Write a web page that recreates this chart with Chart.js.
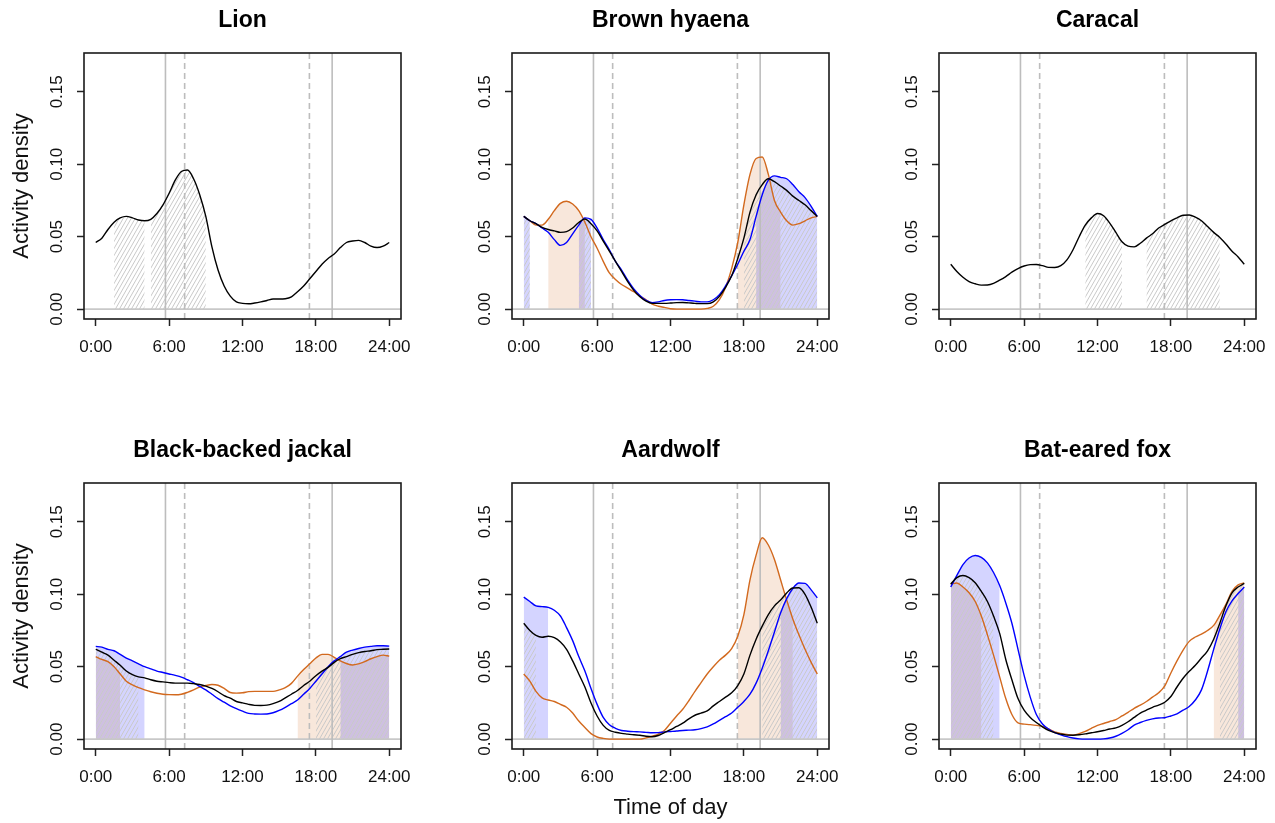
<!DOCTYPE html>
<html lang="en">
<head>
<meta charset="UTF-8" />
<title>Activity density by time of day</title>
<script src="https://cdn.jsdelivr.net/npm/chart.js"></script>
<style>
  * { margin: 0; padding: 0; box-sizing: border-box; }
  body { background: #fff; width: 1275px; height: 823px; position: relative; overflow: hidden; }
  canvas { position: absolute; }
</style>
</head>
<body>
<canvas id="lion"></canvas>
<canvas id="hyaena"></canvas>
<canvas id="caracal"></canvas>
<canvas id="jackal"></canvas>
<canvas id="aardwolf"></canvas>
<canvas id="fox"></canvas>

<script>
// time grid (hours) shared by every curve
const hours = [
  0, 0.5, 1, 1.5, 2, 2.5, 3, 3.5, 4, 4.5, 5, 5.5,
  6, 6.5, 7, 7.5, 8, 8.5, 9, 9.5, 10, 10.5, 11, 11.5,
  12, 12.5, 13, 13.5, 14, 14.5, 15, 15.5, 16, 16.5, 17, 17.5,
  18, 18.5, 19, 19.5, 20, 20.5, 21, 21.5, 22, 22.5, 23, 23.5, 24
];
const hourTicks = [0, 6, 12, 18, 24];
const hourLabels = ['0:00', '6:00', '12:00', '18:00', '24:00'];
const densityTicks = [0, 0.05, 0.10, 0.15];
const xMin = -0.96, xMax = 24.96;
const yMin = -0.0068, yMax = 0.1768;

// sunrise / sunset range
const solidSunLines = [5.7, 19.33];
const dashedSunLines = [7.27, 17.47];

// Lion
const lionAll = [
  0.046, 0.049, 0.055, 0.060, 0.063, 0.064, 0.063, 0.0615, 0.061, 0.062, 0.066, 0.072,
  0.080, 0.089, 0.095, 0.096, 0.090, 0.079, 0.064, 0.043, 0.027, 0.016, 0.009, 0.005,
  0.004, 0.0037, 0.0042, 0.005, 0.006, 0.007, 0.007, 0.0072, 0.0085, 0.012, 0.016, 0.021,
  0.026, 0.031, 0.035, 0.038, 0.0425, 0.046, 0.047, 0.0475, 0.046, 0.0435, 0.0425, 0.0435, 0.046
];
const lionHatch = [[1.5, 4], [4.5, 9]];

// Brown hyaena
const hyaenaAll = [
  0.064, 0.061, 0.059, 0.0565, 0.055, 0.054, 0.053, 0.0535, 0.056, 0.0598, 0.0622, 0.059,
  0.054, 0.047, 0.040, 0.033, 0.026, 0.019, 0.013, 0.0085, 0.0055, 0.004, 0.004, 0.004,
  0.0042, 0.0045, 0.0046, 0.0043, 0.004, 0.0038, 0.0038, 0.005, 0.0088, 0.015, 0.023, 0.035,
  0.049, 0.067, 0.079, 0.086, 0.090, 0.088, 0.085, 0.082, 0.078, 0.075, 0.072, 0.068, 0.064
];
const hyaenaBlue = [
  0.064, 0.061, 0.059, 0.056, 0.053, 0.048, 0.044, 0.046, 0.052, 0.058, 0.063, 0.062,
  0.056, 0.048, 0.041, 0.033, 0.027, 0.020, 0.014, 0.0095, 0.006, 0.0045, 0.005, 0.006,
  0.0065, 0.0066, 0.0065, 0.006, 0.0055, 0.005, 0.005, 0.0065, 0.010, 0.016, 0.023, 0.031,
  0.040, 0.048, 0.064, 0.079, 0.089, 0.092, 0.091, 0.090, 0.086, 0.081, 0.077, 0.071, 0.064
];
const hyaenaOrange = [
  0.064, 0.061, 0.058, 0.058, 0.062, 0.068, 0.073, 0.0745, 0.0726, 0.068, 0.060, 0.050,
  0.042, 0.033, 0.025, 0.0205, 0.017, 0.0145, 0.012, 0.009, 0.0065, 0.0035, 0.002, 0.0012,
  0.0003, 0, 0, 0, 0, 0, 0.0005, 0.002, 0.0065, 0.015, 0.028, 0.046,
  0.072, 0.093, 0.104, 0.105, 0.093, 0.075, 0.067, 0.061, 0.058, 0.059, 0.061, 0.063, 0.064
];
const hyaenaHatch = [[0, 0.5], [4.5, 5.5], [18, 24]];
const hyaenaBlueShade = [[0, 0.5], [4.5, 5.5], [19, 24]];
const hyaenaOrangeShade = [[2, 5], [17.5, 21]];

// Caracal
const caracalAll = [
  0.031, 0.026, 0.022, 0.019, 0.0175, 0.0166, 0.0167, 0.0178, 0.020, 0.0225, 0.0255, 0.028,
  0.0298, 0.0307, 0.0308, 0.030, 0.0288, 0.0287, 0.030, 0.034, 0.041, 0.050, 0.058, 0.063,
  0.066, 0.0645, 0.0594, 0.053, 0.0465, 0.0435, 0.043, 0.0455, 0.049, 0.052, 0.056, 0.0585,
  0.061, 0.063, 0.0648, 0.065, 0.0635, 0.061, 0.057, 0.053, 0.0495, 0.045, 0.040, 0.036, 0.031
];
const caracalHatch = [[11, 14], [16, 22]];

// Black-backed jackal
const jackalAll = [
  0.062, 0.060, 0.058, 0.0545, 0.051, 0.047, 0.0445, 0.043, 0.0423, 0.041, 0.040, 0.0395,
  0.039, 0.0387, 0.0387, 0.0387, 0.0383, 0.0377, 0.0366, 0.035, 0.0327, 0.030, 0.0283, 0.026,
  0.025, 0.024, 0.0233, 0.0232, 0.0235, 0.0245, 0.026, 0.0285, 0.031, 0.0336, 0.037, 0.040,
  0.0438, 0.047, 0.0495, 0.053, 0.0555, 0.057, 0.0585, 0.0597, 0.0605, 0.061, 0.0618, 0.062, 0.0622
];
const jackalBlue = [
  0.064, 0.0635, 0.062, 0.061, 0.0585, 0.056, 0.054, 0.052, 0.050, 0.0485, 0.047, 0.046,
  0.045, 0.044, 0.0428, 0.041, 0.039, 0.0364, 0.034, 0.031, 0.028, 0.0255, 0.023, 0.021,
  0.0193, 0.0178, 0.0174, 0.0173, 0.0174, 0.0182, 0.0198, 0.022, 0.0245, 0.027, 0.031, 0.035,
  0.040, 0.045, 0.050, 0.054, 0.057, 0.060, 0.0615, 0.0626, 0.0635, 0.064, 0.0645, 0.0645, 0.0642
];
const jackalOrange = [
  0.057, 0.055, 0.0535, 0.050, 0.045, 0.040, 0.0375, 0.0355, 0.034, 0.0327, 0.0317, 0.031,
  0.0307, 0.0306, 0.031, 0.0323, 0.034, 0.036, 0.037, 0.0377, 0.0372, 0.035, 0.0322, 0.0318,
  0.032, 0.0328, 0.033, 0.033, 0.033, 0.033, 0.034, 0.0355, 0.0385, 0.0435, 0.048, 0.052,
  0.056, 0.0585, 0.0585, 0.0565, 0.054, 0.0522, 0.0512, 0.052, 0.0535, 0.0555, 0.057, 0.058, 0.0573
];
const jackalHatch = [[0, 3.5], [18, 24]];
const jackalBlueShade = [[0, 4], [20, 24]];
const jackalOrangeShade = [[0, 2], [16.5, 24]];

// Aardwolf
const aardwolfAll = [
  0.080, 0.075, 0.0716, 0.0703, 0.071, 0.070, 0.067, 0.062, 0.054, 0.045, 0.036, 0.025,
  0.016, 0.0095, 0.006, 0.0048, 0.004, 0.0035, 0.003, 0.0027, 0.002, 0.0017, 0.0025, 0.0045,
  0.0065, 0.0088, 0.011, 0.014, 0.0165, 0.018, 0.0195, 0.023, 0.026, 0.029, 0.032, 0.037,
  0.045, 0.058, 0.069, 0.078, 0.086, 0.092, 0.096, 0.1009, 0.1043, 0.1045, 0.100, 0.091, 0.080
];
const aardwolfBlue = [
  0.098, 0.095, 0.092, 0.0915, 0.091, 0.089, 0.085, 0.077, 0.068, 0.057, 0.047, 0.035,
  0.024, 0.015, 0.010, 0.0075, 0.006, 0.0055, 0.0052, 0.005, 0.0047, 0.0044, 0.0045, 0.005,
  0.0053, 0.0056, 0.006, 0.0062, 0.0065, 0.0073, 0.0085, 0.0105, 0.013, 0.0155, 0.018, 0.022,
  0.026, 0.031, 0.0387, 0.049, 0.061, 0.074, 0.087, 0.097, 0.104, 0.1078, 0.1075, 0.103, 0.0975
];
const aardwolfOrange = [
  0.045, 0.040, 0.033, 0.0285, 0.027, 0.026, 0.024, 0.022, 0.018, 0.0125, 0.008, 0.0038,
  0.0015, 0.0005, 0, 0, 0, 0, 0, 0, 0.0009, 0.002, 0.0035, 0.006,
  0.011, 0.016, 0.0206, 0.0265, 0.033, 0.039, 0.045, 0.050, 0.0545, 0.058, 0.0625, 0.071,
  0.086, 0.110, 0.127, 0.139, 0.134, 0.124, 0.110, 0.096, 0.083, 0.072, 0.062, 0.053, 0.045
];
const aardwolfHatch = [[0, 1], [19.5, 24]];
const aardwolfBlueShade = [[0, 2], [21, 24]];
const aardwolfOrangeShade = [[17.5, 22]];

// Bat-eared fox
const foxAll = [
  0.107, 0.1115, 0.113, 0.1115, 0.108, 0.102, 0.095, 0.085, 0.073, 0.055, 0.041, 0.028,
  0.020, 0.015, 0.0115, 0.0085, 0.006, 0.0045, 0.0035, 0.0028, 0.0027, 0.003, 0.0036, 0.0044,
  0.0051, 0.006, 0.007, 0.0078, 0.0095, 0.012, 0.015, 0.018, 0.020, 0.022, 0.0235, 0.0255,
  0.0294, 0.036, 0.042, 0.0468, 0.051, 0.056, 0.061, 0.069, 0.080, 0.092, 0.101, 0.105, 0.1075
];
const foxBlue = [
  0.105, 0.113, 0.1205, 0.125, 0.1268, 0.1255, 0.1217, 0.115, 0.106, 0.094, 0.080, 0.062,
  0.044, 0.029, 0.017, 0.0105, 0.007, 0.0045, 0.003, 0.0017, 0.0008, 0.0002, 0, 0,
  0, 0.0002, 0.0008, 0.002, 0.004, 0.0065, 0.0097, 0.0115, 0.013, 0.014, 0.0146, 0.0148,
  0.016, 0.0175, 0.020, 0.0225, 0.027, 0.034, 0.047, 0.062, 0.076, 0.088, 0.0955, 0.1005, 0.105
];
const foxOrange = [
  0.107, 0.1078, 0.105, 0.101, 0.095, 0.085, 0.072, 0.058, 0.043, 0.028, 0.017, 0.0112,
  0.0104, 0.010, 0.0095, 0.0088, 0.007, 0.005, 0.004, 0.0033, 0.0028, 0.0038, 0.0053, 0.0075,
  0.0095, 0.0108, 0.0122, 0.0135, 0.016, 0.0185, 0.0213, 0.0235, 0.026, 0.029, 0.032, 0.0368,
  0.0457, 0.054, 0.0615, 0.0675, 0.0705, 0.0725, 0.075, 0.0785, 0.0855, 0.093, 0.102, 0.1065, 0.1078
];
const foxHatch = [[0, 3.5], [22, 24]];
const foxBlueShade = [[0, 4], [23.5, 24]];
const foxOrangeShade = [[0, 2.5], [21.5, 24]];

const panels = [
  { id: 'lion', title: 'Lion', left: 0, top: 0, all: lionAll, hatch: lionHatch, yTitle: true },
  { id: 'hyaena', title: 'Brown hyaena', left: 428, top: 0, all: hyaenaAll, blue: hyaenaBlue, orange: hyaenaOrange,
    hatch: hyaenaHatch, blueShade: hyaenaBlueShade, orangeShade: hyaenaOrangeShade },
  { id: 'caracal', title: 'Caracal', left: 855, top: 0, all: caracalAll, hatch: caracalHatch },
  { id: 'jackal', title: 'Black-backed jackal', left: 0, top: 430, all: jackalAll, blue: jackalBlue, orange: jackalOrange,
    hatch: jackalHatch, blueShade: jackalBlueShade, orangeShade: jackalOrangeShade, yTitle: true },
  { id: 'aardwolf', title: 'Aardwolf', left: 428, top: 430, all: aardwolfAll, blue: aardwolfBlue, orange: aardwolfOrange,
    hatch: aardwolfHatch, blueShade: aardwolfBlueShade, orangeShade: aardwolfOrangeShade, xTitle: true },
  { id: 'fox', title: 'Bat-eared fox', left: 855, top: 430, all: foxAll, blue: foxBlue, orange: foxOrange,
    hatch: foxHatch, blueShade: foxBlueShade, orangeShade: foxOrangeShade }
];

Chart.defaults.font.family = '"Liberation Sans", Arial, sans-serif';

function makeHatch() {
  const c = document.createElement('canvas');
  c.width = 4; c.height = 7;
  const g = c.getContext('2d');
  g.strokeStyle = '#c9c9c9';
  g.lineWidth = 1;
  for (const dx of [-4, 0, 4]) {
    g.beginPath();
    g.moveTo(dx, 7);
    g.lineTo(dx + 4, 0);
    g.stroke();
  }
  return g.createPattern(c, 'repeat');
}
const hatch = makeHatch();
const blueFill = 'rgba(0, 0, 255, 0.17)';
const orangeFill = 'rgba(210, 105, 30, 0.16)';

const points = values => hours.map((h, i) => ({ x: h, y: values[i] }));
const slice = (values, a, b) => points(values).filter(p => p.x >= a && p.x <= b);

function buildDatasets(p) {
  const sets = [];
  const shade = (values, ranges, color, order) => {
    if (!values || !ranges) return;
    for (const [a, b] of ranges) {
      sets.push({
        data: slice(values, a, b), fill: 'origin', backgroundColor: color,
        borderColor: 'rgba(0,0,0,0)', borderWidth: 0, pointRadius: 0,
        cubicInterpolationMode: 'monotone', order
      });
    }
  };
  shade(p.orange, p.orangeShade, orangeFill, 40);
  shade(p.blue, p.blueShade, blueFill, 35);
  shade(p.all, p.hatch, hatch, 30);

  for (const t of solidSunLines.concat(dashedSunLines)) {
    sets.push({
      data: [{ x: t, y: yMin }, { x: t, y: yMax }],
      borderColor: '#bdbdbd', borderWidth: 1.6, pointRadius: 0, fill: false,
      borderDash: dashedSunLines.includes(t) ? [6, 4] : [], order: 20
    });
  }
  sets.push({
    data: [{ x: xMin, y: 0 }, { x: xMax, y: 0 }],
    borderColor: '#c8c8c8', borderWidth: 1.6, pointRadius: 0, fill: false, order: 20
  });

  const curve = (values, color, order) => {
    if (!values) return;
    sets.push({
      data: points(values), borderColor: color, borderWidth: 1.4, pointRadius: 0,
      fill: false, cubicInterpolationMode: 'monotone', order
    });
  };
  curve(p.orange, '#d2691e', 3);
  curve(p.blue, '#0000ff', 2);
  curve(p.all, '#000000', 1);
  return sets;
}

const boxPlugin = {
  id: 'box',
  afterDatasetsDraw(chart) {
    const { ctx, chartArea: a } = chart;
    ctx.save();
    ctx.strokeStyle = '#1a1a1a';
    ctx.lineWidth = 1.6;
    ctx.strokeRect(a.left, a.top, a.right - a.left, a.bottom - a.top);
    ctx.restore();
  }
};

const tickGrid = { drawOnChartArea: false, drawTicks: true, tickLength: 7, tickColor: '#222', tickWidth: 1.5 };

// fixed axis sizes so every plot box lands where the reference has it
function fixSize(s, key, size) {
  s[key] = size;
  s.paddingLeft = 0; s.paddingRight = 0; s.paddingTop = 0; s.paddingBottom = 0;
}

for (const p of panels) {
  const canvas = document.getElementById(p.id);
  canvas.width = 411;
  canvas.height = 392;
  canvas.style.left = p.left + 'px';
  canvas.style.top = p.top + 'px';

  new Chart(canvas, {
    type: 'line',
    data: { datasets: buildDatasets(p) },
    plugins: [boxPlugin],
    options: {
      responsive: false,
      animation: false,
      events: [],
      layout: { padding: { left: 0, right: 10, top: 0, bottom: 0 } },
      plugins: {
        legend: { display: false },
        tooltip: { enabled: false },
        title: {
          display: true, text: p.title, fullSize: false, color: '#000',
          font: { size: 23, weight: 'bold' }, padding: { top: 6.9, bottom: 18.5 }
        }
      },
      scales: {
        x: {
          type: 'linear', min: xMin, max: xMax,
          afterBuildTicks: s => { s.ticks = hourTicks.map(v => ({ value: v })); },
          afterFit: s => fixSize(s, 'height', 73),
          ticks: { callback: (v, i) => hourLabels[i], color: '#111', font: { size: 17 }, padding: 11, autoSkip: false, maxRotation: 0 },
          grid: tickGrid,
          border: { display: false },
          title: { display: !!p.xTitle, text: 'Time of day', color: '#111', font: { size: 22 }, padding: { top: 0, bottom: 1 } }
        },
        y: {
          type: 'linear', min: yMin, max: yMax,
          afterBuildTicks: s => { s.ticks = densityTicks.map(v => ({ value: v })); },
          afterFit: s => fixSize(s, 'width', 84),
          ticks: { callback: v => v.toFixed(2), color: '#111', font: { size: 17 }, padding: 3.5, minRotation: 90, maxRotation: 90, crossAlign: 'center' },
          grid: tickGrid,
          border: { display: false },
          title: { display: !!p.yTitle, text: 'Activity density', color: '#111', font: { size: 22 }, padding: { top: 8.5, bottom: 0 } }
        }
      }
    }
  });
}
</script>
</body>
</html>
